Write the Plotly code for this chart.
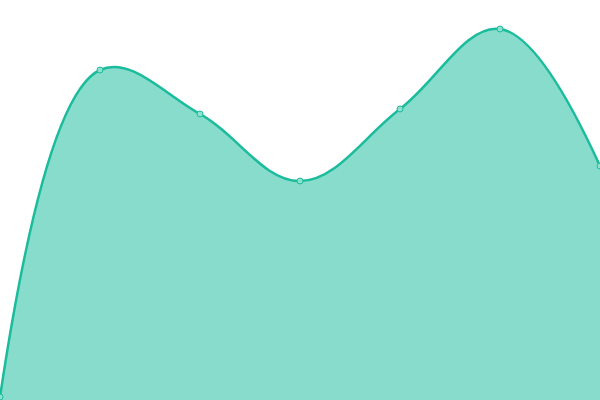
import plotly.graph_objects as go

x_vals = [0, 1, 2, 3, 4, 5, 6]
y_vals = [3, 330, 286, 219, 291, 371, 234]

fig = go.Figure()
fig.add_trace(go.Scatter(
    x=x_vals, y=y_vals,
    mode="lines+markers",
    line=dict(color="#1abc9c", width=2.5, shape="spline", smoothing=1.1),
    fill="tozeroy", fillcolor="rgba(26,188,156,0.52)",
    marker=dict(size=6, color="#8ee0cf", line=dict(color="#1abc9c", width=1)),
    cliponaxis=False,
    hoverinfo="skip",
))

fig.update_layout(
    width=600, height=400,
    margin=dict(l=0, r=0, t=0, b=0),
    paper_bgcolor="white", plot_bgcolor="white",
    showlegend=False,
    xaxis=dict(range=[0, 6], visible=False, fixedrange=True),
    yaxis=dict(range=[0, 400], visible=False, fixedrange=True),
)

# drop the browser's default body margin so the chart sits at 0,0
fig.write_html("out.html", config={"displayModeBar": False},
               post_script="document.body.style.margin='0';")
